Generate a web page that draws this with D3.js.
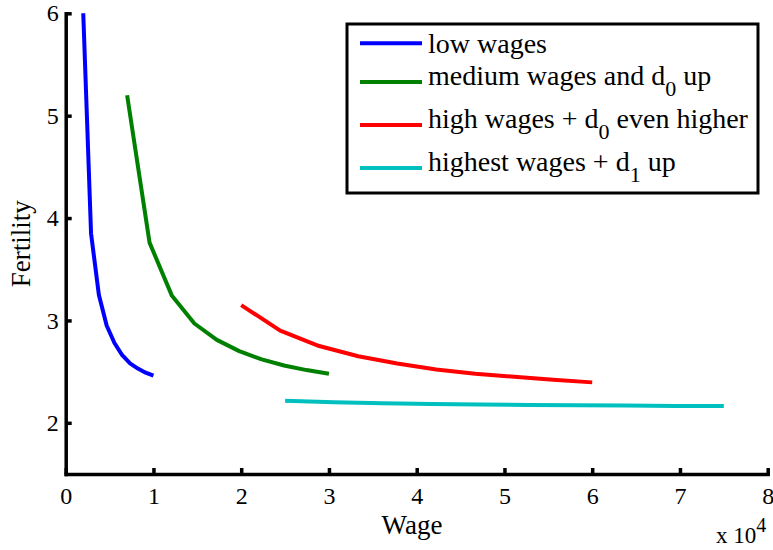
<!DOCTYPE html>
<html>
<head>
<meta charset="utf-8">
<script src="https://cdn.jsdelivr.net/npm/d3@7"></script>
<style>
  body { margin: 0; background: #fff; }
  svg { display: block; }
  text { font-family: "Liberation Serif", "Times New Roman", serif; fill: #000; }
</style>
</head>
<body>
<svg id="chart" width="773" height="550"></svg>
<script>
// ---- data ----
const wageTicks = [0, 1, 2, 3, 4, 5, 6, 7, 8];          // x 10^4
const fertilityTicks = [2, 3, 4, 5, 6];

const lowWage = [2000, 2889, 3778, 4667, 5556, 6444, 7333, 8222, 9111, 10000];
const lowFert = [6.0, 3.85, 3.25, 2.95, 2.78, 2.66, 2.58, 2.53, 2.49, 2.46];

const medWage = [7000, 9556, 12111, 14667, 17222, 19778, 22333, 24889, 27444, 30000];
const medFert = [5.2, 3.76, 3.24, 2.97, 2.81, 2.70, 2.62, 2.56, 2.515, 2.48];

const highWage = [20000, 24444, 28889, 33333, 37778, 42222, 46667, 51111, 55556, 60000];
const highFert = [3.15, 2.90, 2.75, 2.65, 2.58, 2.52, 2.48, 2.45, 2.42, 2.395];

const topWage = [25000, 30556, 36111, 41667, 47222, 52778, 58333, 63889, 69444, 75000];
const topFert = [2.215, 2.200, 2.190, 2.183, 2.178, 2.174, 2.171, 2.168, 2.165, 2.163];

// legend label parts: [main, subscript, rest]
const legendLabels = [
  ["low wages", "", ""],
  ["medium wages and d", "0", " up"],
  ["high wages + d", "0", " even higher"],
  ["highest wages + d", "1", " up"]
];
const seriesColors = ["#0000ff", "#008000", "#ff0000", "#00bfbf"];

(function () {
const series = [
  { x: lowWage, y: lowFert },
  { x: medWage, y: medFert },
  { x: highWage, y: highFert },
  { x: topWage, y: topFert }
];

// ---- layout ----
const svg = d3.select("#chart");
const pLeft = 65.7, pRight = 767.7, pTop = 13.3, pBottom = 474;

const x = d3.scaleLinear().domain([0, 80000]).range([pLeft, pRight]);
const y = d3.scaleLinear().domain([1.5, 6]).range([pBottom, pTop]);

// curves
const line = d3.line().x(d => x(d[0])).y(d => y(d[1]));
series.forEach((s, i) => {
  svg.append("path")
    .datum(s.x.map((v, k) => [v, s.y[k]]))
    .attr("d", line)
    .attr("fill", "none")
    .attr("stroke", seriesColors[i])
    .attr("stroke-width", 4)
    .attr("stroke-linejoin", "round");
});

// axes
const xAxis = d3.axisBottom(x)
  .tickValues(wageTicks.map(d => d * 1e4))
  .tickFormat(d => d / 1e4)
  .tickSizeInner(-6).tickSizeOuter(0).tickPadding(13);
const yAxis = d3.axisLeft(y)
  .tickValues(fertilityTicks)
  .tickFormat(d => d)
  .tickSizeInner(-6).tickSizeOuter(0).tickPadding(7);

const gx = svg.append("g").attr("transform", `translate(0,${pBottom})`).call(xAxis);
const gy = svg.append("g").attr("transform", `translate(${pLeft},0)`).call(yAxis);

[gx, gy].forEach(g => {
  g.select(".domain").attr("stroke", "#000").attr("stroke-width", 3.5).attr("stroke-linecap", "square");
  g.selectAll(".tick line").attr("stroke", "#000").attr("stroke-width", 3.5);
  g.selectAll(".tick text")
    .attr("font-family", "Liberation Serif, serif")
    .attr("font-size", 24)
    .attr("fill", "#000");
});

// axis labels
svg.append("text")
  .attr("x", 412)
  .attr("y", 534)
  .attr("text-anchor", "middle")
  .attr("font-size", 27)
  .text("Wage");

svg.append("text")
  .attr("transform", `translate(30,${(pTop + pBottom) / 2}) rotate(-90)`)
  .attr("text-anchor", "middle")
  .attr("font-size", 27)
  .text("Fertility");

const mult = svg.append("text")
  .attr("x", 716)
  .attr("y", 543)
  .attr("font-size", 23);
mult.append("tspan").text("x 10");
mult.append("tspan").attr("font-size", 20).attr("dy", -11).text("4");

// legend
const lg = svg.append("g");
lg.append("rect")
  .attr("x", 347).attr("y", 24)
  .attr("width", 411).attr("height", 169)
  .attr("fill", "#fff")
  .attr("stroke", "#000")
  .attr("stroke-width", 3);

let cy = 26;
legendLabels.forEach((lab, i) => {
  const hasSub = lab[1] !== "";
  const h = hasSub ? 43 : 34.4;
  const c = cy + h / 2;
  cy += h;
  lg.append("line")
    .attr("x1", 360).attr("x2", 422)
    .attr("y1", c).attr("y2", c)
    .attr("stroke", seriesColors[i])
    .attr("stroke-width", 4);
  const t = lg.append("text")
    .attr("x", 428)
    .attr("y", c + (hasSub ? 3.5 : 10))
    .attr("font-size", 28);
  t.append("tspan").text(lab[0]);
  if (hasSub) {
    t.append("tspan").attr("font-size", 22).attr("dy", 11).text(lab[1]);
    t.append("tspan").attr("dy", -11).text(lab[2]);
  }
});
})();
</script>
</body>
</html>
